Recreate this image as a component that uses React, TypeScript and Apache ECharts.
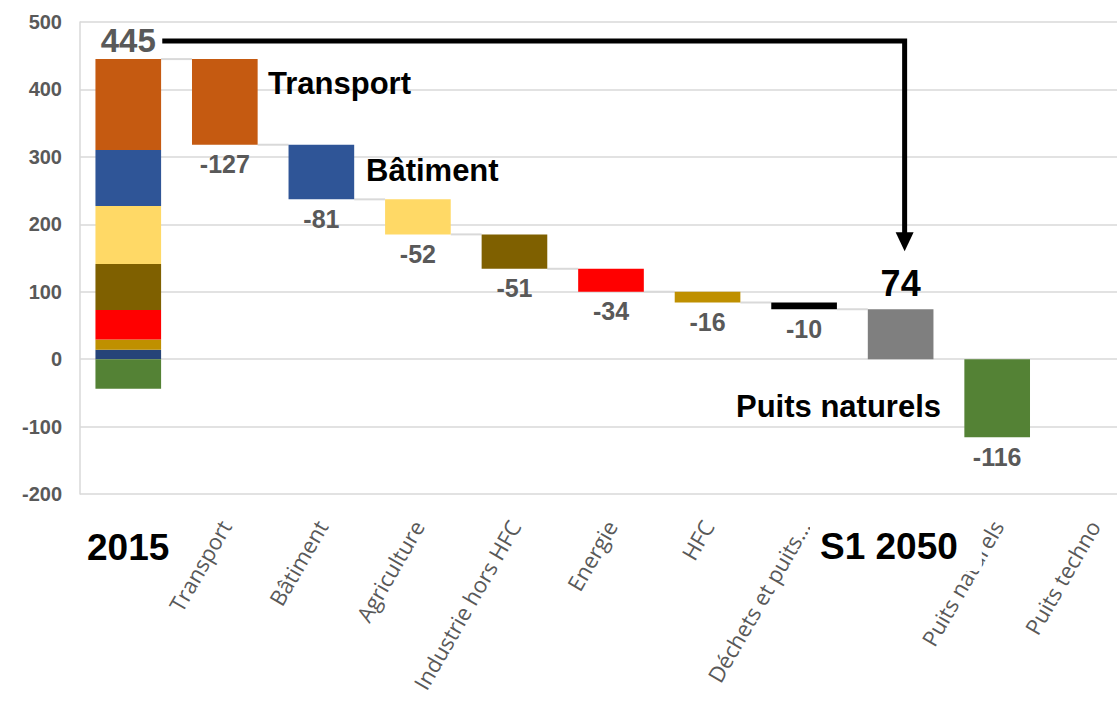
import React, { useEffect, useRef } from "react";
import * as echarts from "echarts";

const categories = ["", "Transport", "Bâtiment", "Agriculture", "Industrie hors HFC", "Energie", "HFC", "Déchets et puits…", "", "Puits naturels", "Puits techno"];

// 2015 breakdown (stacked bar, bottom to top)
const segNames = ["Déchets", "HFC", "Energie", "Industrie hors HFC", "Agriculture", "Bâtiment", "Transport", "Puits naturels"];
const segValues = [14, 15, 44, 68, 86, 83, 135, -44];
const segColors = ["#264478", "#BF9000", "#FF0000", "#7F6000", "#FFD966", "#2F5597", "#C55A11", "#548235"];

const total2015 = 445;
const sectorChanges = [-127, -81, -52, -51, -34, -16, -10];
const sectorColors = ["#C55A11", "#2F5597", "#FFD966", "#7F6000", "#FF0000", "#BF9000", "#000000"];
const total2050 = 74;
const puitsNaturels = -116;

const yTicks = [-200, -100, 0, 100, 200, 300, 400, 500];

export default function App() {
  const ref = useRef<HTMLDivElement>(null);
  useEffect(() => {
    if (!ref.current) return;
    const chart = echarts.init(ref.current, null, { renderer: "svg" });

    const n = categories.length;
    const baseData: any[] = new Array(n).fill("-");
    const deltaData: any[] = new Array(n).fill("-");
    const connectors: number[][] = [[0, total2015]];
    let level = total2015;
    sectorChanges.forEach((c, i) => {
      const bottom = level + c;
      baseData[i + 1] = bottom;
      deltaData[i + 1] = { value: -c, itemStyle: { color: sectorColors[i] }, label: { formatter: String(c) } };
      connectors.push([i + 1, bottom]);
      level = bottom;
    });
    baseData[8] = 0;
    deltaData[8] = {
      value: total2050,
      itemStyle: { color: "#7F7F7F" },
      label: { position: "top", formatter: String(total2050), color: "#000", fontSize: 36, distance: 8 },
    };
    baseData[9] = 0;
    deltaData[9] = { value: puitsNaturels, itemStyle: { color: "#548235" }, label: { position: "bottom", formatter: String(puitsNaturels) } };

    const segSeries = segValues.map((v, i) => {
      const d: any[] = new Array(n).fill("-");
      d[0] = v;
      return {
        name: segNames[i],
        type: "bar",
        stack: "w",
        barWidth: "68%",
        data: d,
        itemStyle: { color: segColors[i] },
        label:
          i === 6
            ? {
                show: true,
                position: "top",
                formatter: String(total2015),
                color: "#595959",
                fontFamily: "Liberation Sans, Arial",
                fontWeight: "bold",
                fontSize: 33,
                distance: 2,
              }
            : { show: false },
      };
    });

    const option: any = {
      animation: false,
      grid: { left: 80, top: 22, height: 472, width: 1062, containLabel: false, outerBoundsMode: "none" },
      xAxis: {
        type: "category",
        data: categories,
        axisLine: { show: false, onZero: false },
        axisTick: { show: false },
        axisLabel: {
          interval: 0,
          rotate: 60,
          margin: 28,
          color: "#595959",
          fontFamily: "Open Sans",
          fontSize: 22,
        },
      },
      yAxis: {
        type: "value",
        min: yTicks[0],
        max: yTicks[yTicks.length - 1],
        interval: 100,
        axisLine: { show: true, lineStyle: { color: "#d9d9d9", width: 1.5 } },
        axisTick: { show: false },
        splitLine: { lineStyle: { color: "#d9d9d9", width: 1.5 } },
        axisLabel: {
          margin: 18,
          color: "#595959",
          fontFamily: "Liberation Sans, Arial",
          fontWeight: "bold",
          fontSize: 20,
        },
      },
      series: [
        {
          type: "custom",
          z: 1,
          silent: true,
          data: connectors,
          renderItem: (params: any, api: any) => {
            const p = api.coord([api.value(0), api.value(1)]);
            const w = api.size([1, 0])[0];
            const half = w * 0.34;
            return {
              type: "line",
              shape: { x1: p[0] + half, y1: p[1], x2: p[0] + w - half, y2: p[1] },
              style: { stroke: "#d9d9d9", lineWidth: 2 },
            };
          },
        },
        ...segSeries,
        {
          name: "base",
          type: "bar",
          stack: "w",
          data: baseData,
          itemStyle: { color: "transparent" },
          emphasis: { disabled: true },
        },
        {
          name: "delta",
          type: "bar",
          stack: "w",
          data: deltaData,
          label: {
            show: true,
            position: "bottom",
            distance: 7,
            color: "#595959",
            fontFamily: "Liberation Sans, Arial",
            fontWeight: "bold",
            fontSize: 25,
          },
        },
      ],
    };
    chart.setOption(option);

    const px = (c: number, v: number) => chart.convertToPixel({ xAxisIndex: 0, yAxisIndex: 0 }, [c, v]) as number[];
    const aStart = px(0, 472);
    const aEnd = px(8, 472);
    const ax = aEnd[0] + 4;
    const tip = px(8, 160);
    const bigFont = "Liberation Sans, Arial";

    chart.setOption({
      graphic: [
        {
          type: "polyline",
          z: 100,
          shape: { points: [[aStart[0] + 34, aStart[1]], [ax, aStart[1]], [ax, tip[1] - 16]] },
          style: { stroke: "#000", lineWidth: 5, fill: null, lineJoin: "miter" },
        },
        {
          type: "polygon",
          z: 100,
          shape: { points: [[ax - 9, tip[1] - 19], [ax + 9, tip[1] - 19], [ax, tip[1]]] },
          style: { fill: "#000" },
        },
        {
          type: "text",
          z: 100,
          x: 268,
          y: 68,
          style: { text: "Transport", font: `bold 31px ${bigFont}`, fill: "#000" },
        },
        {
          type: "text",
          z: 100,
          x: 366,
          y: 155,
          style: { text: "Bâtiment", font: `bold 31px ${bigFont}`, fill: "#000" },
        },
        {
          type: "text",
          z: 100,
          x: 736,
          y: 391,
          style: { text: "Puits naturels", font: `bold 31px ${bigFont}`, fill: "#000" },
        },
        {
          type: "text",
          z: 100,
          x: 87,
          y: 529,
          style: { text: "2015", font: `bold 37px ${bigFont}`, fill: "#000" },
        },
        {
          type: "text",
          z: 100,
          x: 810,
          y: 522,
          style: {
            text: "S1 2050",
            font: `bold 37px ${bigFont}`,
            fill: "#000",
            backgroundColor: "#fff",
            padding: [6, 24, 6, 10],
          },
        },
      ],
    });

    return () => chart.dispose();
  }, []);
  return <div ref={ref} style={{ position: "fixed", left: 0, top: 0, width: 1117, height: 713, background: "#fff" }} />;
}
